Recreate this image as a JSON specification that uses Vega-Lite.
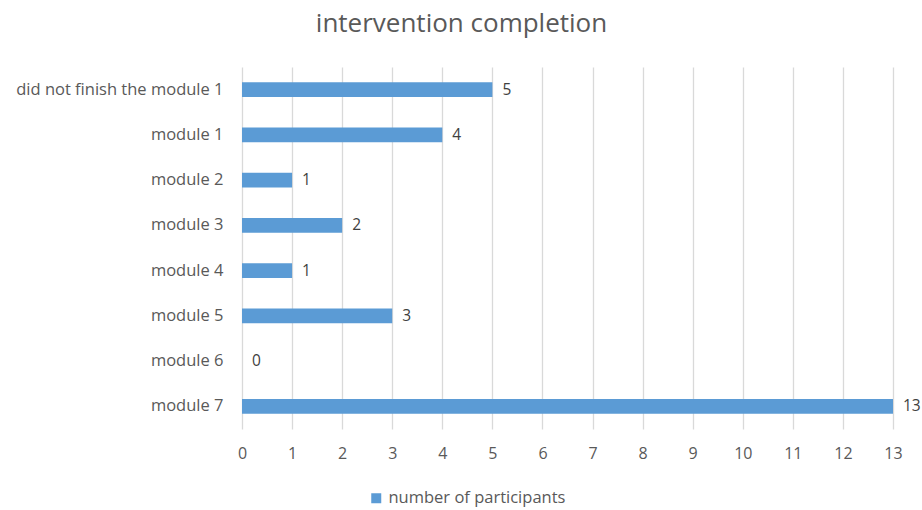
{
  "$schema": "https://vega.github.io/schema/vega-lite/v6.json",
  "autosize": {"type": "none"},
  "padding": {"left": 242, "top": 67, "right": 29, "bottom": 81},
  "width": 651,
  "height": 362,
  "background": "white",
  "title": {
    "text": "intervention completion",
    "anchor": "middle",
    "frame": "group",
    "dx": -106,
    "offset": 30,
    "fontSize": 26,
    "fontWeight": "normal",
    "font": "Open Sans",
    "color": "#595959"
  },
  "config": {
    "view": {"stroke": null},
    "font": "Open Sans"
  },
  "data": {
    "values": [
      {"stage": "did not finish the module 1", "count": 5, "series": "number of participants"},
      {"stage": "module 1", "count": 4, "series": "number of participants"},
      {"stage": "module 2\u00a0", "count": 1, "series": "number of participants"},
      {"stage": "module 3", "count": 2, "series": "number of participants"},
      {"stage": "module 4", "count": 1, "series": "number of participants"},
      {"stage": "module 5", "count": 3, "series": "number of participants"},
      {"stage": "module 6", "count": 0, "series": "number of participants"},
      {"stage": "module 7", "count": 13, "series": "number of participants"}
    ]
  },
  "encoding": {
    "y": {
      "field": "stage",
      "type": "nominal",
      "sort": null,
      "scale": {"paddingInner": 0.67, "paddingOuter": 0.335},
      "axis": {
        "title": null,
        "ticks": false,
        "domain": false,
        "labelPadding": 19,
        "labelFontSize": 16.5,
        "labelColor": "#595959",
        "labelFont": "Open Sans",
        "labelLimit": 300
      }
    },
    "x": {
      "field": "count",
      "type": "quantitative",
      "scale": {"domain": [0, 13], "nice": false},
      "axis": {
        "title": null,
        "values": [0,1,2,3,4,5,6,7,8,9,10,11,12,13],
        "ticks": false,
        "domain": false,
        "grid": true,
        "gridColor": "#d9d9d9",
        "gridWidth": 1.3,
        "labelPadding": 16,
        "labelFontSize": 16,
        "labelColor": "#595959",
        "labelFont": "Open Sans",
        "labelFlush": false
      }
    }
  },
  "layer": [
    {
      "mark": {"type": "bar", "color": "#5b9bd5"},
      "encoding": {
        "color": {
          "field": "series",
          "type": "nominal",
          "scale": {"range": ["#5b9bd5"]},
          "legend": {
            "title": null,
            "orient": "none",
            "legendX": 126,
            "legendY": 423,
            "symbolType": "square",
            "symbolSize": 100,
            "symbolStrokeWidth": 0,
            "labelFontSize": 16.5,
            "labelLimit": 400,
            "labelColor": "#595959",
            "labelFont": "Open Sans",
            "labelOffset": 4
          }
        }
      }
    },
    {
      "mark": {"type": "text", "align": "left", "dx": 10, "fontSize": 15.5, "color": "#404040", "font": "Open Sans"},
      "encoding": {"text": {"field": "count", "type": "quantitative"}}
    }
  ]
}
